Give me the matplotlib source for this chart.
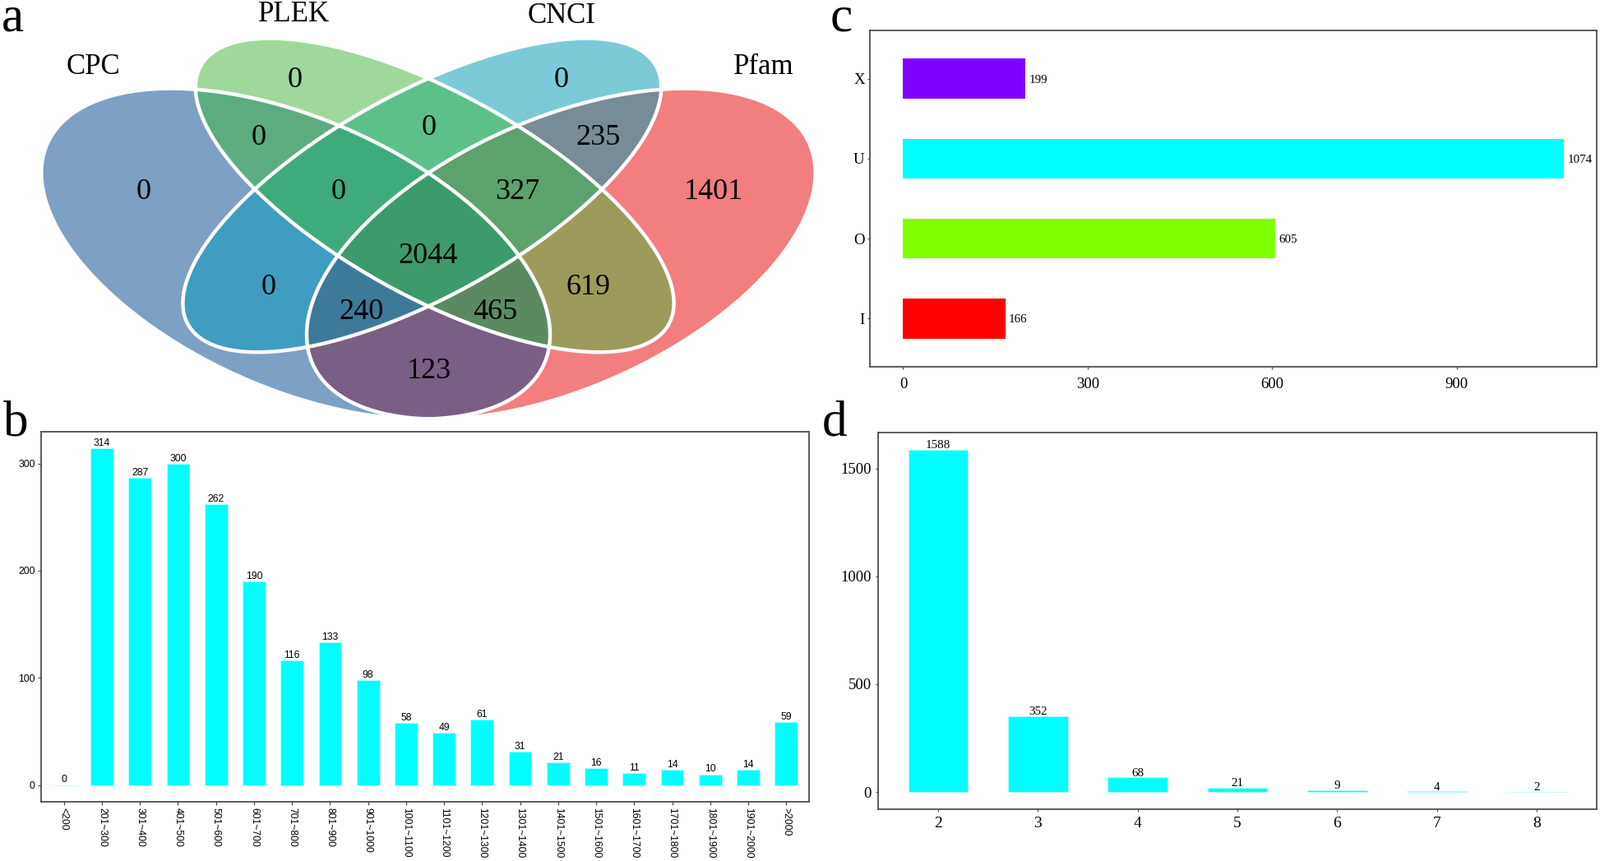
import numpy as np
import matplotlib
matplotlib.use("Agg")
import matplotlib.pyplot as plt

# ---------------- data ----------------
venn_sets = ["CPC", "PLEK", "CNCI", "Pfam"]
# membership (CPC, PLEK, CNCI, Pfam) of each region
venn_regions = [(1, 0, 0, 0), (0, 1, 0, 0), (0, 0, 1, 0), (0, 0, 0, 1),
                (1, 1, 0, 0), (0, 1, 1, 0), (0, 0, 1, 1), (1, 0, 1, 0),
                (0, 1, 0, 1), (1, 0, 0, 1), (1, 1, 1, 0), (0, 1, 1, 1),
                (1, 0, 1, 1), (1, 1, 0, 1), (1, 1, 1, 1)]
venn_counts = [0, 0, 0, 1401, 0, 0, 235, 0, 619, 123, 0, 327, 240, 465, 2044]

len_cats = ["<200", "201~300", "301~400", "401~500", "501~600", "601~700",
            "701~800", "801~900", "901~1000", "1001~1100", "1101~1200",
            "1201~1300", "1301~1400", "1401~1500", "1501~1600", "1601~1700",
            "1701~1800", "1801~1900", "1901~2000", ">2000"]
len_counts = [0, 314, 287, 300, 262, 190, 116, 133, 98, 58, 49, 61, 31, 21,
              16, 11, 14, 10, 14, 59]

class_cats = ["I", "O", "U", "X"]
class_counts = [166, 605, 1074, 199]

exon_cats = ["2", "3", "4", "5", "6", "7", "8"]
exon_counts = [1588, 352, 68, 21, 9, 4, 2]

# ---------------- style / layout ----------------
W, H, DPI = 1946, 1047, 100
SERIF = "Liberation Serif"
SANS = "Liberation Sans"
SPINE = "#4D4D4D"
CYAN = "#00FFFF"
class_colors = ["#FF0000", "#80FF00", "#00FFFF", "#8000FF"]

region_colors = {
    (1, 0, 0, 0): "#7DA0C5", (0, 1, 0, 0): "#9ED99B", (0, 0, 1, 0): "#7CCAD7",
    (0, 0, 0, 1): "#F27E7E", (1, 1, 0, 0): "#5DAC80", (0, 1, 1, 0): "#5DC08A",
    (0, 0, 1, 1): "#778C97", (1, 0, 1, 0): "#409CC0", (0, 1, 0, 1): "#9C9B5C",
    (1, 0, 0, 1): "#7A5F84", (1, 1, 1, 0): "#3FAA7C", (0, 1, 1, 1): "#5CA26C",
    (1, 0, 1, 1): "#3D7A9A", (1, 1, 0, 1): "#5A8A62", (1, 1, 1, 1): "#3C9A6C",
}
region_pos = {
    (1, 0, 0, 0): (175, 230), (0, 1, 0, 0): (359, 93), (0, 0, 1, 0): (683, 93),
    (0, 0, 0, 1): (868, 230), (1, 1, 0, 0): (315, 164), (0, 1, 1, 0): (522, 152),
    (0, 0, 1, 1): (727, 164), (1, 0, 1, 0): (327, 345), (0, 1, 0, 1): (716, 345),
    (1, 0, 0, 1): (522, 447), (1, 1, 1, 0): (412, 229), (0, 1, 1, 1): (629, 229),
    (1, 0, 1, 1): (440, 375), (1, 1, 0, 1): (602, 375), (1, 1, 1, 1): (521, 308),
}
set_label_pos = [(113, 77), (358, 14), (683, 15), (929, 77)]

# boundary outlines (pixel layout) of the outer (CPC) and inner (PLEK) shapes;
# CNCI / Pfam are their mirror images about the vertical centre line
MIRROR_X = 1042
cpc_outline = [(55, 200), (60, 173), (83, 143), (140, 115), (200, 106), (235, 108),
               (410, 155), (521, 208), (632, 313), (660, 400), (664, 430), (645, 470),
               (607, 500), (521, 512), (433, 500), (333, 467), (233, 430), (150, 377),
               (83, 300)]
plek_outline = [(521, 97), (433, 60), (333, 47), (267, 63), (240, 82), (235, 105),
                (250, 150), (283, 193), (312, 235), (412, 313), (522, 372), (595, 400),
                (667, 424), (747, 430), (800, 400), (813, 367), (810, 317), (780, 273),
                (730, 232), (628, 155)]

VC = (521.0, 280.0)
SC = 300.0


def fit_conic(pts):
    p = np.asarray(pts, float)
    x = (p[:, 0] - VC[0]) / SC
    y = (p[:, 1] - VC[1]) / SC
    D = np.column_stack([x * x, x * y, y * y, x, y])
    coef, *_ = np.linalg.lstsq(D, np.ones(len(x)), rcond=None)
    return coef


def conic(coef, X, Y):
    x = (X - VC[0]) / SC
    y = (Y - VC[1]) / SC
    return coef[0] * x * x + coef[1] * x * y + coef[2] * y * y + coef[3] * x + coef[4] * y - 1


def mirror(pts):
    return [(MIRROR_X - x, y) for x, y in pts]


shapes = [fit_conic(cpc_outline), fit_conic(plek_outline),
          fit_conic(mirror(plek_outline)), fit_conic(mirror(cpc_outline))]

fig = plt.figure(figsize=(W / DPI, H / DPI), dpi=DPI)
fig.patch.set_facecolor("white")


def px_axes(l, t, r, b):
    return fig.add_axes([l / W, 1 - b / H, (r - l) / W, (b - t) / H])


# ---------------- panel a : Venn ----------------
VW, VH = 1040, 520
ax_a = px_axes(0, 0, VW, VH)
ax_a.set_xlim(0, VW)
ax_a.set_ylim(VH, 0)
ax_a.axis("off")

gx = np.arange(VW) + 0.5
gy = np.arange(VH) + 0.5
GX, GY = np.meshgrid(gx, gy)
vals = [conic(c, GX, GY) for c in shapes]
inside = [v < 0 for v in vals]
img = np.zeros((VH, VW, 4))
for reg in venn_regions:
    m = np.ones_like(inside[0])
    for k in range(4):
        m &= (inside[k] == bool(reg[k]))
    img[m] = matplotlib.colors.to_rgba(region_colors[reg])
ax_a.imshow(img, extent=(0, VW, VH, 0), origin="upper", interpolation="nearest", zorder=1)
for v in vals:
    ax_a.contour(GX, GY, v, levels=[0], colors="white", linewidths=3.2, zorder=2)

for reg, cnt in zip(venn_regions, venn_counts):
    x, y = region_pos[reg]
    ax_a.text(x, y, str(cnt), ha="center", va="center_baseline", fontsize=26,
              family=SERIF, color="black", zorder=3)
for name, (x, y) in zip(venn_sets, set_label_pos):
    ax_a.text(x, y, name, ha="center", va="center_baseline", fontsize=25,
              family=SERIF, color="black", zorder=3)


def style_box(ax, lw=1.3):
    for s in ax.spines.values():
        s.set_color(SPINE)
        s.set_linewidth(lw)
    ax.set_facecolor("white")


# ---------------- panel b ----------------
ax_b = px_axes(50, 525, 984, 975)
xb = np.arange(len(len_cats))
ax_b.bar(xb, len_counts, width=0.6, color=CYAN, edgecolor="#B3FFFF", linewidth=0.6)
ax_b.set_xlim(-0.6, len(len_cats) - 0.4)
ax_b.set_ylim(-0.05 * max(len_counts), 1.05 * max(len_counts))
ax_b.set_xticks(xb)
ax_b.set_xticklabels(len_cats, rotation=270, fontsize=8.7, family=SANS)
ax_b.set_yticks([0, 100, 200, 300])
ax_b.set_yticklabels(["0", "100", "200", "300"], fontsize=8.7, family=SANS)
ax_b.tick_params(axis="both", length=2.9, width=0.9, color=SPINE, pad=2.4)
style_box(ax_b)
for i, v in enumerate(len_counts):
    ax_b.annotate(str(v), (i, v), xytext=(0, 2.2), textcoords="offset points",
                  ha="center", va="baseline", fontsize=8.7, family=SANS)

# ---------------- panel c ----------------
ax_c = px_axes(1058.3, 37.3, 1942.3, 445.7)
yc = np.arange(1, len(class_cats) + 1)
ax_c.barh(yc, class_counts, height=0.5, color=class_colors)
ax_c.set_ylim(0.4, len(class_cats) + 0.6)
ax_c.set_xlim(-0.05 * max(class_counts), 1.05 * max(class_counts))
ax_c.set_yticks(yc)
ax_c.set_yticklabels(class_cats, fontsize=13.5, family=SERIF)
ax_c.set_xticks([0, 300, 600, 900])
ax_c.set_xticklabels(["0", "300", "600", "900"], fontsize=13.5, family=SERIF)
ax_c.tick_params(axis="both", length=2.4, width=0.9, color=SPINE)
ax_c.tick_params(axis="y", pad=2.4)
ax_c.tick_params(axis="x", pad=7)
style_box(ax_c)
for y, v in zip(yc, class_counts):
    ax_c.annotate(str(v), (v, y), xytext=(3, 0), textcoords="offset points",
                  ha="left", va="center_baseline", fontsize=10.8, family=SERIF)

# ---------------- panel d ----------------
ax_d = px_axes(1068.3, 525.7, 1941.7, 984)
xd = np.arange(len(exon_cats))
ax_d.bar(xd, exon_counts, width=0.6, color=CYAN, edgecolor="#B3FFFF", linewidth=0.6)
ax_d.set_xlim(-0.6, len(exon_cats) - 0.4)
ax_d.set_ylim(-0.05 * max(exon_counts), 1.05 * max(exon_counts))
ax_d.set_xticks(xd)
ax_d.set_xticklabels(exon_cats, fontsize=14, family=SERIF)
ax_d.set_yticks([0, 500, 1000, 1500])
ax_d.set_yticklabels(["0", "500", "1000", "1500"], fontsize=13.5, family=SERIF)
ax_d.tick_params(axis="both", length=2.4, width=0.9, color=SPINE)
ax_d.tick_params(axis="y", pad=3.7)
ax_d.tick_params(axis="x", pad=4)
style_box(ax_d)
for i, v in enumerate(exon_counts):
    ax_d.annotate(str(v), (i, v), xytext=(0, 1.1), textcoords="offset points",
                  ha="center", va="baseline", fontsize=10.8, family=SERIF)

# ---------------- panel letters ----------------
for letter, (x, y) in zip("abcd", [(2, 37), (4, 530), (1010, 38), (1000, 530)]):
    fig.text(x / W, 1 - y / H, letter, fontsize=44, family=SERIF, ha="left", va="baseline")

fig.savefig("out.png", dpi=DPI, facecolor="white")
